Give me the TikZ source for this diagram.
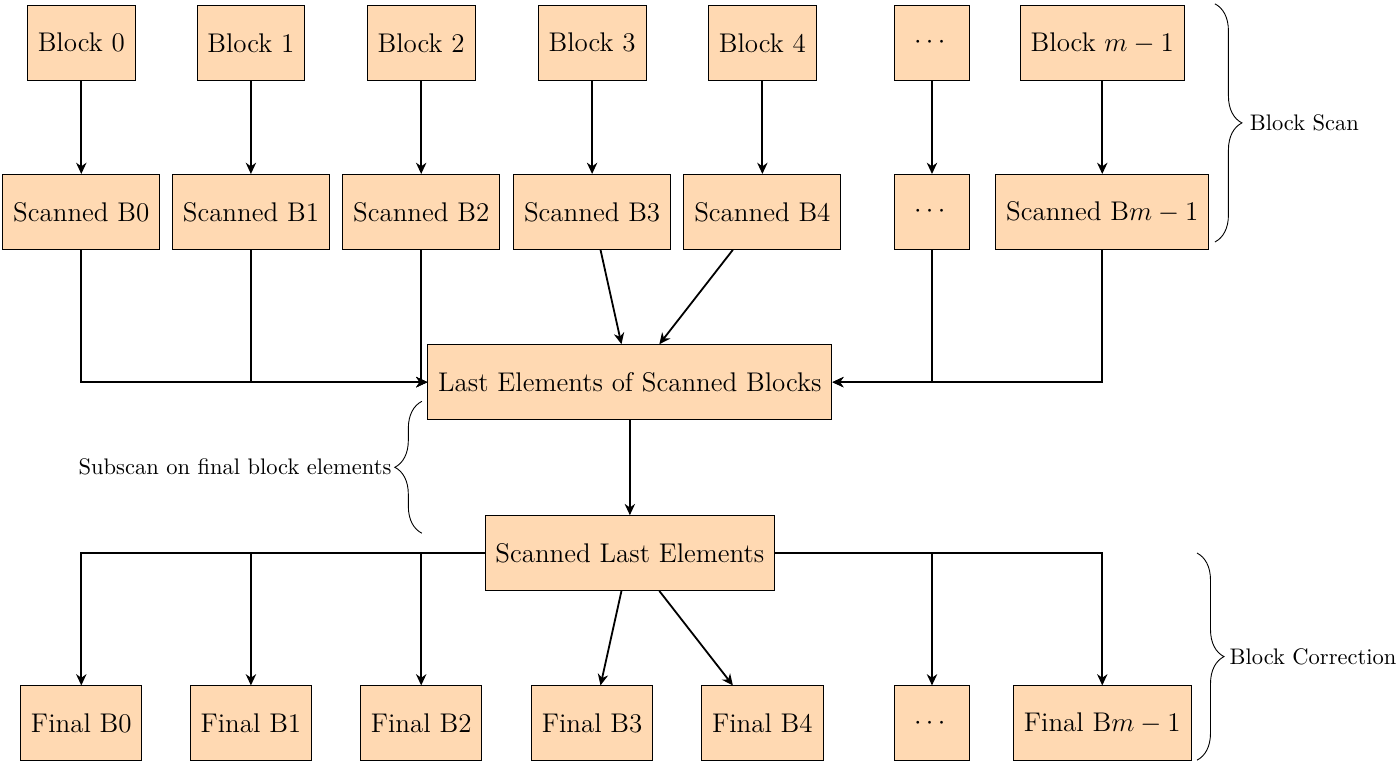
\documentclass[tikz,border=0pt]{standalone}
\usepackage{amsmath}
\usepackage{tikz}
\usetikzlibrary{positioning,arrows.meta,decorations.pathreplacing}

\begin{document}
\begin{tikzpicture}[
  x=1cm, y=1cm,
  blk/.style={draw, fill=orange!30, inner xsep=4.6pt, minimum width=1.17cm, minimum height=1.17cm, font=\large},
  arr/.style={-{Stealth[length=5pt, width=4.6pt, inset=1.6pt]}, thick},
  brc/.style={decorate, decoration={brace, amplitude=12pt}}]
  \useasboundingbox (0,0) rectangle (21.84,-11.91);
  % input blocks
  \node[blk] (b0) at (1.27,-0.67) {Block 0};
  \node[blk] (b1) at (3.92,-0.67) {Block 1};
  \node[blk] (b2) at (6.58,-0.67) {Block 2};
  \node[blk] (b3) at (9.25,-0.67) {Block 3};
  \node[blk] (b4) at (11.91,-0.67) {Block 4};
  \node[blk] (b5) at (14.56,-0.67) {$\cdots$};
  \node[blk] (b6) at (17.22,-0.67) {Block $m-1$};
  % scanned blocks
  \node[blk] (s0) at (1.27,-3.31) {Scanned B0};
  \node[blk] (s1) at (3.92,-3.31) {Scanned B1};
  \node[blk] (s2) at (6.58,-3.31) {Scanned B2};
  \node[blk] (s3) at (9.25,-3.31) {Scanned B3};
  \node[blk] (s4) at (11.91,-3.31) {Scanned B4};
  \node[blk] (s5) at (14.56,-3.31) {$\cdots$};
  \node[blk] (s6) at (17.22,-3.31) {Scanned B$m-1$};
  % subscan
  \node[blk] (last) at (9.84,-5.97) {Last Elements of Scanned Blocks};
  \node[blk] (sle) at (9.84,-8.64) {Scanned Last Elements};
  % corrected blocks
  \node[blk] (f0) at (1.27,-11.30) {Final B0};
  \node[blk] (f1) at (3.92,-11.30) {Final B1};
  \node[blk] (f2) at (6.58,-11.30) {Final B2};
  \node[blk] (f3) at (9.25,-11.30) {Final B3};
  \node[blk] (f4) at (11.91,-11.30) {Final B4};
  \node[blk] (f5) at (14.56,-11.30) {$\cdots$};
  \node[blk] (f6) at (17.22,-11.30) {Final B$m-1$};
  \draw[arr] (b0) -- (s0);
  \draw[arr] (b1) -- (s1);
  \draw[arr] (b2) -- (s2);
  \draw[arr] (b3) -- (s3);
  \draw[arr] (b4) -- (s4);
  \draw[arr] (b5) -- (s5);
  \draw[arr] (b6) -- (s6);
  \draw[arr] (s0) |- (last);
  \draw[arr] (s1) |- (last);
  \draw[arr] (s2) |- (last);
  \draw[arr] (s3) -- (last);
  \draw[arr] (s4) -- (last);
  \draw[arr] (s5) |- (last);
  \draw[arr] (s6) |- (last);
  \draw[arr] (last) -- (sle);
  \draw[arr] (sle) -| (f0);
  \draw[arr] (sle) -| (f1);
  \draw[arr] (sle) -| (f2);
  \draw[arr] (sle) -- (f3);
  \draw[arr] (sle) -- (f4);
  \draw[arr] (sle) -| (f5);
  \draw[arr] (sle) -| (f6);
  % braces
  \coordinate (scantop) at (18.98,-0.06);
  \coordinate (scanbot) at (18.98,-3.78);
  \coordinate (subbot) at (6.59,-8.33);
  \coordinate (subtop) at (6.59,-6.27);
  \coordinate (cortop) at (18.70,-8.64);
  \coordinate (corbot) at (18.70,-11.875);
  \draw[brc] (scantop) -- (scanbot) node[midway, right=12pt] (lblscan) {Block Scan};
  \draw[brc] (subbot) -- (subtop) node[midway, left=10pt] (lblsub) {Subscan on final block elements};
  \draw[brc] (cortop) -- (corbot) node[midway, right=11pt] (lblcor) {Block Correction};
\end{tikzpicture}
\end{document}
